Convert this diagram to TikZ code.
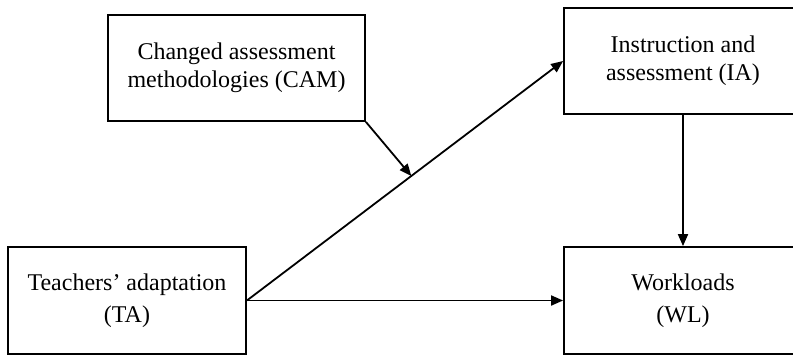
\documentclass[tikz,border=0pt]{standalone}
\usepackage{fontspec}
\setmainfont{Liberation Serif}
\usetikzlibrary{arrows.meta}

\begin{document}
\begin{tikzpicture}[x=0.5pt, y=-0.5pt,
  var/.style={draw, line width=0.9pt, align=center, inner sep=0pt,
    font=\fontsize{12}{14}\selectfont},
  wide/.style={font=\fontsize{12}{16}\selectfont},
  >={Triangle[length=6pt,width=5pt]}]
  \useasboundingbox (0,0) rectangle (793,355);
  \node[var, minimum width=128.5pt, minimum height=53pt] (cam) at (236.5,68) {Changed assessment\\methodologies (CAM)};
  \node[var, minimum width=119pt, minimum height=53pt] (ia) at (683,61) {Instruction and\\assessment (IA)};
  \node[var, wide, minimum width=119pt, minimum height=53.5pt] (ta) at (127,300.5) {Teachers' adaptation\\(TA)};
  \node[var, wide, minimum width=119pt, minimum height=53.5pt] (wl) at (683,300.5) {Workloads\\(WL)};
  \path[->, line width=0.9pt]
  (ta.east) edge coordinate[pos=0.52] (hit) (ia.west)
  (ta.east) edge (wl.west)
  (ia.south) edge (wl.north)
  (cam.south east) edge (hit)
  ;
\end{tikzpicture}
\end{document}
